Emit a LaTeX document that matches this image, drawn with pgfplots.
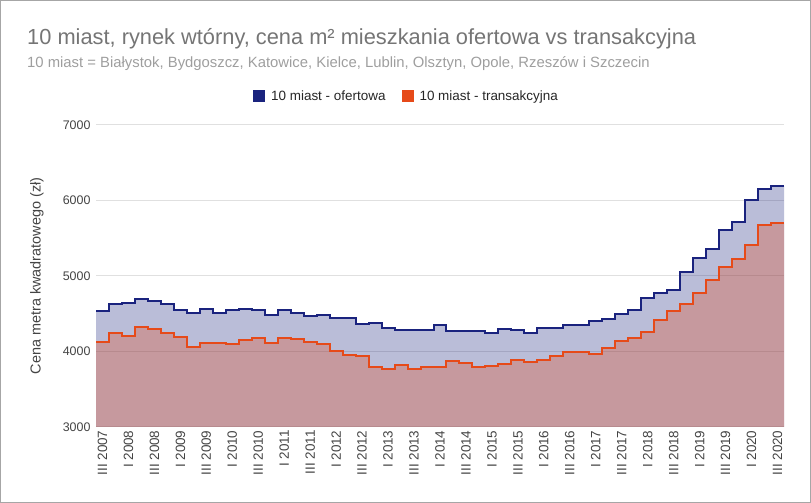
\documentclass[border=0pt]{standalone}
\usepackage{pgfplots}
\usepackage{pgfplotstable}
\usepackage{fontspec}
\setmainfont{Liberation Sans}
\pgfplotsset{compat=1.18}

\definecolor{ofert}{HTML}{1A237E}
\definecolor{trans}{HTML}{E64A19}
\definecolor{titlegray}{HTML}{757575}
\definecolor{subgray}{HTML}{9E9E9E}
\definecolor{labgray}{HTML}{444444}
\definecolor{gridgray}{HTML}{E0E0E0}

% quarter index (0 = III 2007), offer price, transaction price
\pgfplotstableread{
x  of    tr
0  4535  4124
1  4630  4247
2  4645  4203
3  4700  4320
4  4675  4300
5  4625  4247
6  4545  4190
7  4510  4057
8  4565  4110
9  4505  4119
10 4555  4093
11 4560  4146
12 4545  4181
13 4485  4115
14 4555  4181
15 4515  4159
16 4465  4124
17 4490  4102
18 4440  4013
19 4440  3960
20 4370  3934
21 4380  3797
22 4305  3766
23 4280  3820
24 4280  3770
25 4285  3792
26 4345  3792
27 4268  3870
28 4272  3845
29 4272  3792
30 4248  3812
31 4303  3840
32 4287  3881
33 4250  3862
34 4308  3892
35 4312  3940
36 4355  3991
37 4355  3991
38 4400  3969
39 4433  4049
40 4500  4140
41 4555  4180
42 4703  4260
43 4780  4411
44 4812  4530
45 5055  4628
46 5243  4777
47 5360  4950
48 5615  5117
49 5718  5228
50 6005  5405
51 6150  5677
52 6191  5696
53 6191  5696
}\dataten

\begin{document}
\begin{tikzpicture}
\path[use as bounding box] (0,0) rectangle (811bp,503bp);
\draw[color=black!35, line width=1bp] (0.5bp,0.5bp) rectangle (810.5bp,502.5bp);

\node[anchor=base west, inner sep=0pt, text=titlegray, font=\fontsize{21.9}{24}\selectfont]
  at (27bp,458bp) {10 miast, rynek wtórny, cena m² mieszkania ofertowa vs transakcyjna};
\node[anchor=base west, inner sep=0pt, text=subgray, font=\fontsize{14.9}{17}\selectfont]
  at (27bp,435bp) {10 miast = Białystok, Bydgoszcz, Katowice, Kielce, Lublin, Olsztyn, Opole, Rzeszów i Szczecin};

\begin{axis}[
    at={(96bp,76bp)}, anchor=south west,
    scale only axis,
    width=688bp, height=302bp,
    xmin=0, xmax=53,
    ymin=3000, ymax=7000,
    enlargelimits=false,
    axis line style={draw=none},
    ytick={3000,4000,5000,6000,7000},
    ymajorgrids=true,
    grid style={color=gridgray, line width=1bp},
    major tick length=0pt,
    xtick={0.5,2.5,...,52.5},
    xticklabels={III 2007,I 2008,III 2008,I 2009,III 2009,I 2010,III 2010,I 2011,III 2011,I 2012,III 2012,I 2013,III 2013,I 2014,III 2014,I 2015,III 2015,I 2016,III 2016,I 2017,III 2017,I 2018,III 2018,I 2019,III 2019,I 2020,III 2020},
    /pgf/number format/assume math mode=true,
    yticklabel style={font=\fontsize{12.5}{14}\selectfont, text=labgray, xshift=-2bp},
    xticklabel style={font=\fontsize{13.5}{15}\selectfont, text=labgray, rotate=90, anchor=east},
    scaled y ticks=false,
    yticklabel={\pgfmathprintnumber[fixed, 1000 sep={}]{\tick}},
    ylabel={Cena metra kwadratowego (zł)},
    ylabel style={at={(axis description cs:-0.086,0.5)}, anchor=center, font=\fontsize{14.5}{16}\selectfont, text=labgray},
    legend style={at={(axis description cs:0.4513,1.096)}, anchor=center, draw=none, fill=none,
        legend columns=2, font=\fontsize{13.5}{15}\selectfont, text=black!85,
        /tikz/every odd column/.append style={column sep=4bp},
        /tikz/every even column/.append style={column sep=14bp}},
    legend image code/.code={\fill[#1] (0bp,-6bp) rectangle (12bp,6bp);},
]
\addplot[const plot, draw=none, fill=ofert, fill opacity=0.3, forget plot] table[x=x, y=of] {\dataten} \closedcycle;
\addplot[const plot, draw=none, fill=trans, fill opacity=0.3, forget plot] table[x=x, y=tr] {\dataten} \closedcycle;
\addplot[const plot, color=ofert, line width=2bp, forget plot] table[x=x, y=of] {\dataten};
\addplot[const plot, color=trans, line width=2bp, forget plot] table[x=x, y=tr] {\dataten};
\addlegendimage{draw=none, fill=ofert}
\addlegendentry{10 miast - ofertowa}
\addlegendimage{draw=none, fill=trans}
\addlegendentry{10 miast - transakcyjna}
\end{axis}
\end{tikzpicture}
\end{document}
